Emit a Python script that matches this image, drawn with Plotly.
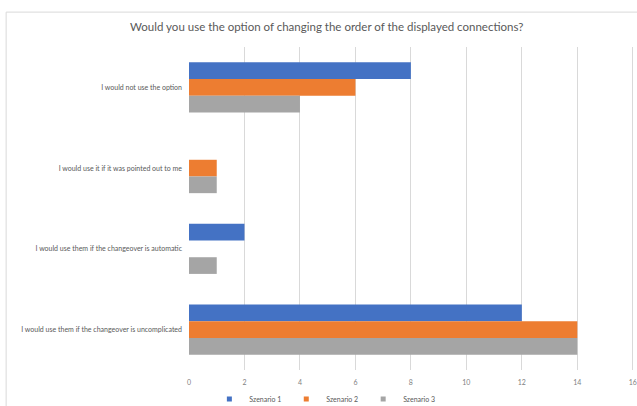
import plotly.graph_objects as go

categories = [
    "I would not use the option",
    "I would use it if it was pointed out to me",
    "I would use them if the changeover is automatic",
    "I would use them if the changeover is uncomplicated",
]
szenario1 = [8, 0, 2, 12]
szenario2 = [6, 1, 0, 14]
szenario3 = [4, 1, 1, 14]
series_names = ["Szenario 1", "Szenario 2", "Szenario 3"]
colors = ["#4472C4", "#ED7D31", "#A5A5A5"]
x_ticks = [0, 2, 4, 6, 8, 10, 12, 14, 16]

fig = go.Figure()
for name, vals, c in zip(series_names, [szenario1, szenario2, szenario3], colors):
    fig.add_trace(go.Bar(y=categories, x=vals, name=name, orientation="h",
                         showlegend=False,
                         marker=dict(color=c, line=dict(width=0))))
# legend entries with small square symbols
for name, c in zip(series_names, colors):
    fig.add_trace(go.Scatter(x=[None], y=[None], mode="markers", name=name,
                             marker=dict(symbol="square", size=5, color=c)))

fig.update_layout(
    width=637, height=406,
    margin=dict(l=189, r=2, t=47, b=36, autoexpand=False),
    paper_bgcolor="white", plot_bgcolor="white",
    font=dict(family="Lato, Open Sans, sans-serif", color="#595959", size=7),
    title=dict(text="Would you use the option of changing the order of the displayed connections?",
               x=0.513, xanchor="center", y=0.933, yanchor="middle",
               font=dict(size=11.5, color="#595959")),
    barmode="group", bargap=0.38, bargroupgap=0,
    xaxis=dict(range=[0, 16.08], tickvals=x_ticks, showgrid=True, gridcolor="#D9D9D9",
               gridwidth=1, zeroline=False, showline=False, ticks="",
               ticklabelstandoff=7, automargin=False,
               tickfont=dict(size=7, color="#7F7F7F")),
    yaxis=dict(autorange="reversed", showgrid=False, showline=False, ticks="",
               ticklabelstandoff=6, automargin=False,
               tickfont=dict(size=7, color="#595959")),
    legend=dict(orientation="h", xref="container", yref="container",
                x=0.51, xanchor="center", y=0.017, yanchor="middle",
                font=dict(size=7, color="#595959"), itemwidth=30,
                traceorder="normal"),
    shapes=[dict(type="rect", xref="paper", yref="paper", x0=-0.41, x1=1.2,
                 y0=-0.2, y1=1.108, line=dict(color="#D9D9D9", width=1),
                 fillcolor="rgba(0,0,0,0)", layer="below")],
)
fig.write_html("out.html", config={"displayModeBar": False},
               post_script="document.body.style.margin='0';")
